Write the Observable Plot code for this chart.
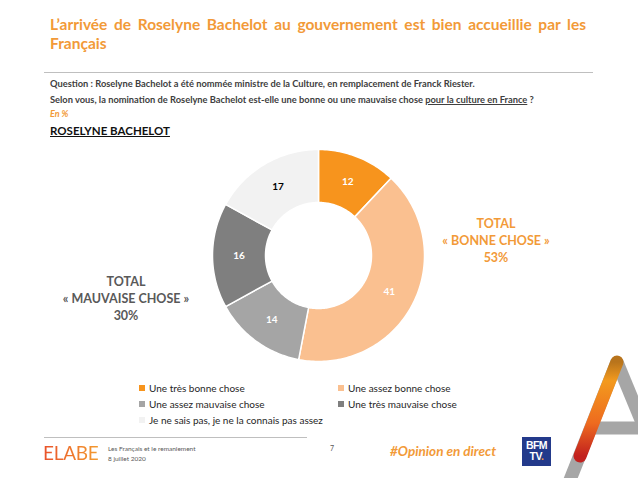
<!DOCTYPE html>
<html><head><meta charset="utf-8">
<script src="https://cdn.jsdelivr.net/npm/d3@7"></script>
<script src="https://cdn.jsdelivr.net/npm/@observablehq/plot@0.6"></script>
<style>
body{margin:0;width:638px;height:478px;position:relative;overflow:hidden;background:#fff;font-family:Lato,"Open Sans",sans-serif;}
.abs{position:absolute;white-space:nowrap;}
#t1{left:50px;top:15px;width:536px;color:#F29A38;font-weight:bold;font-size:15.5px;line-height:19px;text-align:justify;text-align-last:justify;white-space:normal;}
#t2{left:50px;top:34px;color:#F29A38;font-weight:bold;font-size:15.5px;line-height:19px;}
#rule1{left:44px;top:72px;width:549px;height:1px;background:#BFBFBF;}
.q{left:50px;color:#404040;font-weight:bold;font-size:9.3px;}
#enp{left:50px;top:108px;color:#F29A38;font-style:italic;font-weight:bold;font-size:9px;}
#rb{left:50px;top:124px;color:#111;font-weight:bold;font-size:11.5px;text-decoration:underline;}
.tot{text-align:center;font-weight:bold;font-size:12.5px;line-height:17px;white-space:nowrap;}
#chart{left:210px;top:147px;}
.leg{font-size:10px;color:#262626;display:flex;align-items:center;}
.sw{width:6px;height:6px;margin-right:4px;display:inline-block;}
#rule2{left:44px;top:437px;width:263px;height:1px;background:#BFBFBF;}
#elabe{left:43px;top:441px;font-size:19px;font-weight:400;letter-spacing:-0.3px;background:linear-gradient(90deg,#E9522B,#F39A2E);-webkit-background-clip:text;background-clip:text;color:transparent;}
.foot{left:108px;font-size:6.5px;color:#595959;}
#pg{left:330px;top:444px;font-size:7px;color:#595959;}
#hash{left:390px;top:443px;color:#F29A38;font-weight:bold;font-style:italic;font-size:13.5px;}
#bfm{left:522px;top:437px;width:29px;height:29px;background:#233A8B;color:#fff;font-weight:900;font-family:"Liberation Sans",Arial,sans-serif;font-size:10.5px;line-height:10.5px;text-align:center;padding-top:3px;box-sizing:border-box;letter-spacing:-0.5px;}
</style></head>
<body>
<div id="t1" class="abs">L’arrivée de Roselyne Bachelot au gouvernement est bien accueillie par les</div>
<div id="t2" class="abs">Français</div>
<div id="rule1" class="abs"></div>
<div class="abs q" style="top:78px">Question : Roselyne Bachelot a été nommée ministre de la Culture, en remplacement de Franck Riester.</div>
<div class="abs q" style="top:94px">Selon vous, la nomination de Roselyne Bachelot est-elle une bonne ou une mauvaise chose <span style="text-decoration:underline">pour la culture en France</span> ?</div>
<div id="enp" class="abs">En %</div>
<div id="rb" class="abs">ROSELYNE BACHELOT</div>
<div id="chart" class="abs"></div>
<div id="totGood" class="abs tot" style="left:436px;top:215px;width:120px;color:#F29A38"></div>
<div id="totBad" class="abs tot" style="left:56px;top:273px;width:140px;color:#595959"></div>
<div id="legend"></div>
<div id="rule2" class="abs"></div>
<div id="elabe" class="abs">ELABE</div>
<div class="abs foot" style="top:445px">Les Français et le remaniement</div>
<div class="abs foot" style="top:455px">8 juillet 2020</div>
<div id="pg" class="abs">7</div>
<div id="hash" class="abs">#Opinion en direct</div>
<div id="bfm" class="abs">BFM<br>TV<span style="color:#F29A38">.</span></div>
<svg class="abs" style="left:540px;top:340px" width="98" height="138">
  <defs><linearGradient id="og" x1="0" y1="0" x2="0" y2="1">
    <stop offset="0" stop-color="#B8741C"/><stop offset="0.2" stop-color="#F39A1E"/><stop offset="0.65" stop-color="#EE6B1F"/><stop offset="1" stop-color="#C2211E"/></linearGradient></defs>
  <g stroke="#A6A6A6" stroke-width="13" fill="none">
    <line x1="77" y1="22" x2="22" y2="160"/>
    <line x1="77" y1="22" x2="130" y2="150"/>
    <line x1="52" y1="88" x2="100" y2="88"/>
  </g>
  <line x1="77" y1="22" x2="40" y2="116" stroke="url(#og)" stroke-width="13" stroke-linecap="round"/>
</svg>
<script>
const categories = ["Une très bonne chose","Une assez bonne chose","Une assez mauvaise chose","Une très mauvaise chose","Je ne sais pas, je ne la connais pas assez"];
const values = [12, 41, 14, 16, 17];
const totalLabels = ["TOTAL", "« BONNE CHOSE »", "TOTAL", "« MAUVAISE CHOSE »"];
const totalValues = [53, 30];
const palette = ["#F7941D","#FAC090","#A5A5A5","#7F7F7F","#F2F2F2"];

const rows = categories.map((c,i)=>({cat:c, value:values[i]}));
const arcs = d3.pie().sort(null).value(d=>d.value)(rows);
const rIn = 0.5, rOut = 1, rLab = 0.75;
const pts = [];
const labs = [];
for (const a of arcs) {
  const n = Math.max(8, Math.ceil((a.endAngle - a.startAngle) / 0.02));
  for (let k=0;k<=n;k++){const t=a.startAngle+(a.endAngle-a.startAngle)*k/n; pts.push({cat:a.data.cat,x:rOut*Math.sin(t),y:rOut*Math.cos(t)});}
  for (let k=n;k>=0;k--){const t=a.startAngle+(a.endAngle-a.startAngle)*k/n; pts.push({cat:a.data.cat,x:rIn*Math.sin(t),y:rIn*Math.cos(t)});}
  const m=(a.startAngle+a.endAngle)/2;
  labs.push({cat:a.data.cat, v:a.data.value, x:rLab*Math.sin(m), y:rLab*Math.cos(m)});
}
const last = categories[categories.length-1];
const chart = Plot.plot({
  width:216, height:216, margin:2,
  x:{domain:[-1,1], axis:null}, y:{domain:[-1,1], axis:null},
  color:{domain:categories, range:palette},
  style:{fontFamily:"Lato, 'Open Sans', sans-serif", background:"transparent"},
  marks:[
    Plot.line(pts,{x:"x",y:"y",z:"cat",fill:"cat",stroke:"white",strokeWidth:1.5,curve:"linear-closed"}),
    Plot.text(labs.filter(d=>d.cat!==last),{x:"x",y:"y",text:d=>String(d.v),fill:"white",fontWeight:"bold",fontSize:10}),
    Plot.text(labs.filter(d=>d.cat===last),{x:"x",y:"y",text:d=>String(d.v),fill:"black",fontWeight:"bold",fontSize:10})
  ]
});
document.getElementById("chart").appendChild(chart);
document.getElementById("totGood").innerHTML = totalLabels[0]+"<br>"+totalLabels[1]+"<br>"+totalValues[0]+"%";
document.getElementById("totBad").innerHTML = totalLabels[2]+"<br>"+totalLabels[3]+"<br>"+totalValues[1]+"%";
const legPos = [[139,382],[338,382],[139,398],[338,398],[139,414]];
const legend = document.getElementById("legend");
categories.forEach((c,i)=>{
  const d=document.createElement("div");
  d.className="abs leg";
  d.style.left=legPos[i][0]+"px"; d.style.top=legPos[i][1]+"px";
  d.innerHTML='<span class="sw" style="background:'+palette[i]+'"></span>'+c;
  legend.appendChild(d);
});
</script>
</body></html>
